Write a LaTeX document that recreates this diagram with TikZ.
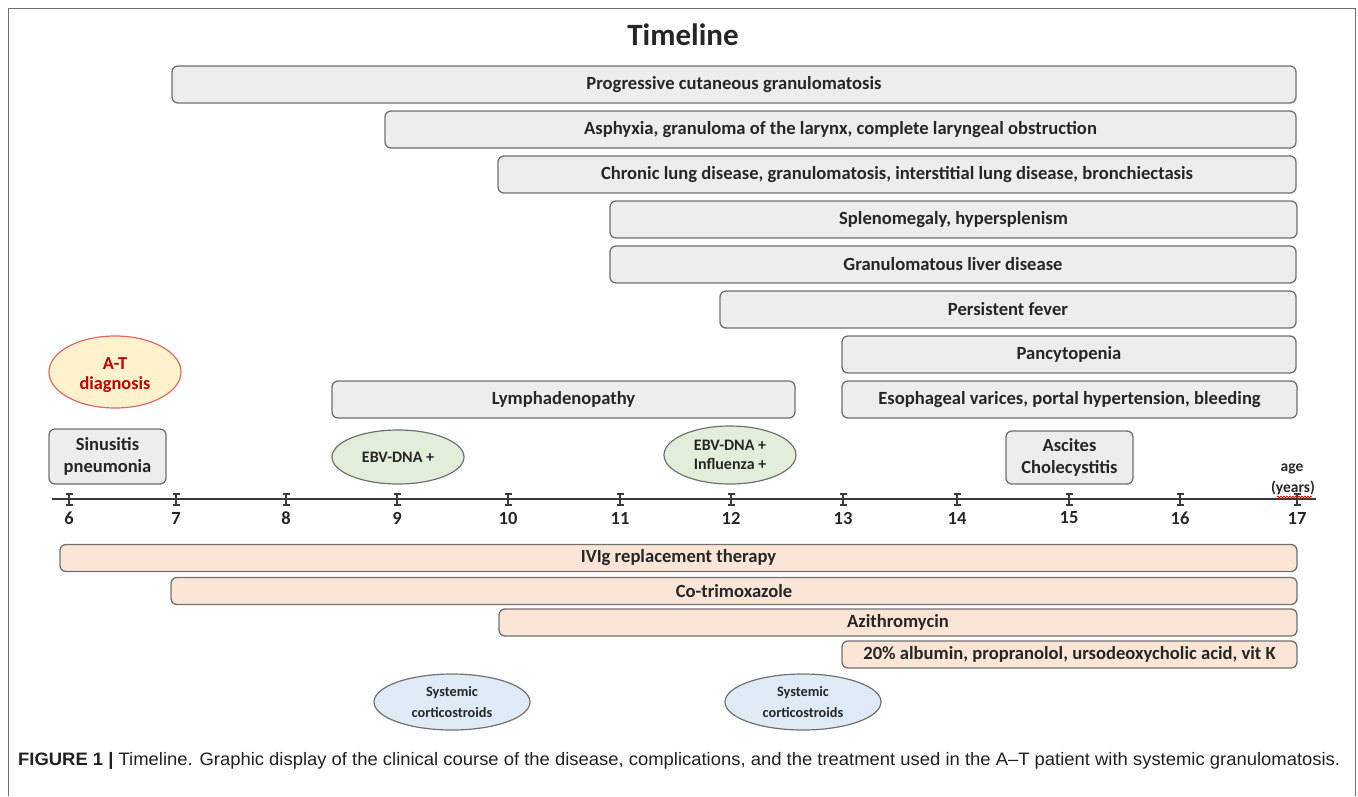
\documentclass[tikz,border=0pt]{standalone}
\usepackage{fontspec}
\setmainfont{Carlito}
\newfontfamily\capfont[Ligatures=TeX]{Liberation Sans}
\usetikzlibrary{shapes.geometric,decorations.pathmorphing}
\definecolor{gfill}{HTML}{EDEDED}
\definecolor{pfill}{HTML}{FBE5D6}
\definecolor{grfill}{HTML}{E3EEDA}
\definecolor{blfill}{HTML}{DEEBF7}
\definecolor{yfill}{HTML}{FFF2CC}
\definecolor{redb}{HTML}{E06666}
\definecolor{redt}{HTML}{C00000}
\definecolor{bord}{HTML}{707070}
\definecolor{txt}{HTML}{262626}
\definecolor{axc}{HTML}{3A3A3A}
\definecolor{capc}{HTML}{231F20}
\begin{document}
\begin{tikzpicture}[x=1pt,y=-1pt,
  bx/.style={draw=bord, line width=1.3pt, rounded corners=6pt, inner sep=0pt, align=center,
     font=\bfseries\fontsize{18.6}{21}\selectfont, text=txt},
  gbar/.style={bx, fill=gfill, minimum height=37pt},
  pbar/.style={bx, fill=pfill, minimum height=27pt},
  ell/.style={ellipse, draw=bord, line width=1.2pt, inner sep=0pt, align=center, text=txt,
     font=\bfseries\fontsize{16}{19}\selectfont},
  tick/.style={line width=1.4pt, draw=axc},
  num/.style={font=\bfseries\fontsize{18.5}{21}\selectfont, text=txt},
  small/.style={font=\bfseries\fontsize{15.5}{18}\selectfont, text=txt}
]
\useasboundingbox (0,0) rectangle (1358,796);
% frame
\coordinate (fbl) at (8,796); \coordinate (ftl) at (8,8);
\coordinate (ftr) at (1355,8); \coordinate (fbr) at (1355,796);
\draw[line width=1pt, draw=bord] (fbl) -- (ftl) -- (ftr) -- (fbr);
% title
\node[font=\bfseries\fontsize{31}{35}\selectfont, text=txt] (title) at (683,35) {Timeline};
% top bars
\node[gbar, minimum width=1124pt] (b1) at (734,84.5) {Progressive cutaneous granulomatosis};
\node[gbar, minimum width=911pt] (b2) at (840.5,129.5) {Asphyxia, granuloma of the larynx, complete laryngeal obstruction};
\node[gbar, minimum width=798pt] (b3) at (897,174.5) {Chronic lung disease, granulomatosis, interstitial lung disease, bronchiectasis};
\node[gbar, minimum width=687pt] (b4) at (953.5,219.5) {Splenomegaly, hypersplenism};
\node[gbar, minimum width=686pt] (b5) at (953,264.5) {Granulomatous liver disease};
\node[gbar, minimum width=576pt] (b6) at (1008,309.5) {Persistent fever};
\node[gbar, minimum width=454pt] (b7) at (1069,354.5) {Pancytopenia};
\node[gbar, minimum width=455pt] (b8) at (1069.5,399.5) {Esophageal varices, portal hypertension, bleeding};
\node[gbar, minimum width=463pt] (lym) at (563.5,399.5) {Lymphadenopathy};
\node[gbar, minimum width=117pt, minimum height=55pt, font=\bfseries\fontsize{18.5}{22}\selectfont] (sin) at (107.5,456.5) {Sinusitis\\pneumonia};
\node[gbar, minimum width=127pt, minimum height=53pt, font=\bfseries\fontsize{18.5}{22}\selectfont] (asc) at (1069.5,457.5) {Ascites\\Cholecystitis};
% ellipses
\node[ell, fill=yfill, draw=redb, minimum width=132pt, minimum height=72pt] (atd) at (115,372) {};
\node[text=redt, align=center, font=\bfseries\fontsize{18.3}{20.5}\selectfont, inner sep=0pt] (atdt) at (115,375) {A-T\\diagnosis};
\node[ell, fill=grfill, minimum width=132pt, minimum height=54pt] (ebv1) at (398,457) {EBV-DNA +};
\node[ell, fill=grfill, minimum width=132pt, minimum height=58pt] (ebv2) at (730,455) {EBV-DNA +\\Influenza +};
\node[ell, fill=blfill, minimum width=156pt, minimum height=56pt, font=\bfseries\fontsize{14.3}{21}\selectfont] (cs1) at (452,702) {Systemic\\corticostroids};
\node[ell, fill=blfill, minimum width=156pt, minimum height=56pt, font=\bfseries\fontsize{14.3}{21}\selectfont] (cs2) at (803,702) {Systemic\\corticostroids};
% axis
\coordinate (axL) at (52,499); \coordinate (axR) at (1316,499);
\draw[line width=2pt, draw=axc] (axL) -- (axR);
\foreach \xx/\lab in {69/6,176/7,286/8,397/9,508/10,620/11,731/12,843/13,957/14,1069/15,1180/16,1297/17}{
  \coordinate (t\lab a) at (\xx,494); \coordinate (t\lab b) at (\xx,505);
  \draw[tick] (t\lab a) -- (t\lab b);
  \draw[tick] ([xshift=-3.5pt]t\lab a) -- ([xshift=3.5pt]t\lab a);
  \draw[tick] ([xshift=-3.5pt]t\lab b) -- ([xshift=3.5pt]t\lab b);
  \node[num] (n\lab) at (\xx,518) {\lab};
}
\node[small] (age) at (1292,469) {age};
\node[small] (yrs) at (1293,488) {(years)};
\coordinate (wavL) at (1277,497); \coordinate (wavR) at (1312,497);
\draw[red, line width=0.8pt, decorate, decoration={snake, amplitude=0.9pt, segment length=3pt}] (wavL) -- (wavR);
% treatment bars
\node[pbar, minimum width=1237pt] (ivig) at (678.5,558) {IVIg replacement therapy};
\node[pbar, minimum width=1126pt] (cot) at (734,591) {Co-trimoxazole};
\node[pbar, minimum width=798pt] (azi) at (898,622.5) {Azithromycin};
\node[pbar, minimum width=455pt] (alb) at (1069.5,654.5) {20\% albumin, propranolol, ursodeoxycholic acid, vit K};
% caption
\node[anchor=west, inner sep=0pt, text=capc] (cap) at (18,761) {\resizebox{1322pt}{\height}{\capfont\fontsize{18}{22}\selectfont\textbf{FIGURE 1 |} Timeline. Graphic display of the clinical course of the disease, complications, and the treatment used in the A--T patient with systemic granulomatosis.}};
\end{tikzpicture}
\end{document}
